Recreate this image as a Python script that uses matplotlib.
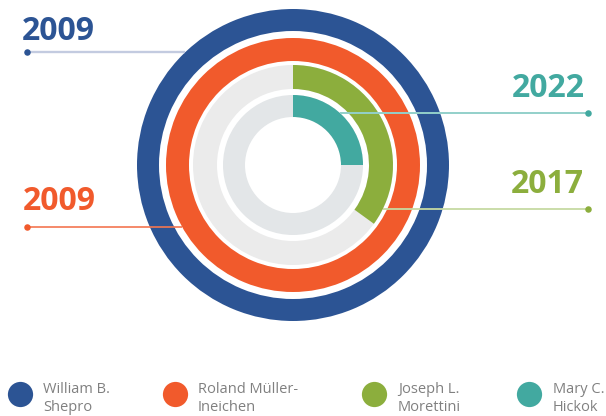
import numpy as np
import matplotlib
matplotlib.use("Agg")
import matplotlib.pyplot as plt
from matplotlib.patches import Wedge

# data
names = [["William B.", "Shepro"], ["Roland Müller-", "Ineichen"],
         ["Joseph L.", "Morettini"], ["Mary C.", "Hickok"]]
years = ["2009", "2009", "2017", "2022"]
shares = [1.0, 1.0, 0.35, 0.25]

colors = ["#2C5494", "#F15A2C", "#8CAE3D", "#42A9A0"]
line_colors = ["#C3CBE0", "#F37650", "#C6DAA2", "#93D0CA"]
line_widths = [1.7, 1.2, 1.3, 1.4]
track_colors = [None, None, "#EBEBEB", "#E3E6E8"]

# ring geometry (pixels)
cx, cy = 293, 165
r_out = [156, 127, 100, 70]
r_in = [134, 104, 76, 48]

fig = plt.figure(figsize=(6.06, 4.16), dpi=100)
ax = fig.add_axes([0, 0, 1, 1])
ax.set_xlim(0, 606)
ax.set_ylim(416, 0)
ax.set_aspect("equal")
ax.axis("off")

for i in range(4):
    w = r_out[i] - r_in[i]
    if track_colors[i]:
        ax.add_patch(Wedge((cx, cy), r_out[i], 0, 360, width=w,
                           facecolor=track_colors[i], edgecolor="none", zorder=1))
    ax.add_patch(Wedge((cx, cy), r_out[i], -90, -90 + 360 * shares[i], width=w,
                       facecolor=colors[i], edgecolor="none", zorder=2))

# year labels with leader lines
# (line y, side, text x, text baseline)
label_pos = [(52, "left", 22, 40), (227, "left", 23, 210),
             (209, "right", 584, 193), (113, "right", 585, 97)]
for i, (ly, side, tx, ty) in enumerate(label_pos):
    dx = np.sqrt(r_out[i] ** 2 - (ly - cy) ** 2)
    if side == "left":
        x0, x1 = 27, cx - dx
        ha = "left"
        dot_x = x0
    else:
        x0, x1 = cx + dx, 588
        ha = "right"
        dot_x = x1
    ax.plot([x0, x1], [ly, ly], color=line_colors[i], lw=line_widths[i], zorder=3,
            solid_capstyle="butt")
    ax.scatter([dot_x], [ly], s=22, color=colors[i], zorder=4, linewidths=0)
    ax.text(tx, ty, years[i], color=colors[i], fontsize=23, fontweight="bold",
            family="Open Sans", ha=ha, va="baseline")

# legend
leg_dot_x = [20, 175, 374, 529]
leg_txt_x = [43, 198, 398, 553]
for i in range(4):
    ax.scatter([leg_dot_x[i]], [394], s=330, color=colors[i], linewidths=0)
    ax.text(leg_txt_x[i], 393, names[i][0], color="#808080", fontsize=10.5,
            family="Open Sans", ha="left", va="baseline")
    ax.text(leg_txt_x[i], 411, names[i][1], color="#808080", fontsize=10.5,
            family="Open Sans", ha="left", va="baseline")

fig.savefig("out.png", dpi=100, facecolor="white")
